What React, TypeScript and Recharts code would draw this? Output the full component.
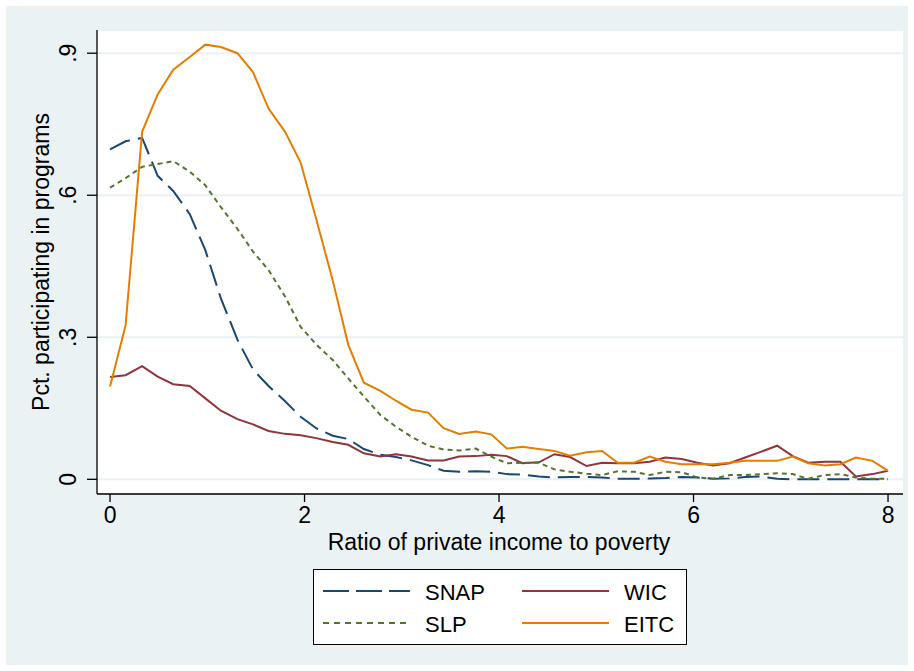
import React from "react"
import { LineChart, Line, XAxis, YAxis, CartesianGrid, Label } from "recharts"

const ratio = [
  0, 0.16, 0.33, 0.49, 0.65, 0.82, 0.98, 1.14, 1.31, 1.47,
  1.63, 1.8, 1.96, 2.12, 2.29, 2.45, 2.61, 2.78, 2.94, 3.1,
  3.27, 3.43, 3.59, 3.76, 3.92, 4.08, 4.24, 4.41, 4.57, 4.73,
  4.9, 5.06, 5.22, 5.39, 5.55, 5.71, 5.88, 6.04, 6.2, 6.37,
  6.53, 6.69, 6.86, 7.02, 7.18, 7.35, 7.51, 7.67, 7.84, 8,
]

const snap = [
  0.697, 0.714, 0.721, 0.641, 0.609, 0.56, 0.484, 0.382, 0.295, 0.232,
  0.197, 0.165, 0.132, 0.108, 0.092, 0.085, 0.064, 0.052, 0.047, 0.04,
  0.03, 0.018, 0.016, 0.017, 0.016, 0.011, 0.01, 0.006, 0.004, 0.005,
  0.005, 0.004, 0.001, 0.001, 0.002, 0.003, 0.005, 0.004, 0.001, 0.002,
  0.005, 0.006, 0.001, 0, 0, 0, 0, 0, 0, 0,
]

const wic = [
  0.216, 0.22, 0.239, 0.217, 0.201, 0.197, 0.171, 0.145, 0.127, 0.116,
  0.102, 0.096, 0.093, 0.087, 0.079, 0.073, 0.055, 0.048, 0.053, 0.048,
  0.04, 0.04, 0.048, 0.049, 0.052, 0.049, 0.034, 0.036, 0.053, 0.047,
  0.028, 0.035, 0.034, 0.034, 0.037, 0.046, 0.043, 0.035, 0.029, 0.034,
  0.046, 0.058, 0.071, 0.049, 0.035, 0.037, 0.037, 0.006, 0.011, 0.018,
]

const slp = [
  0.616, 0.636, 0.66, 0.666, 0.672, 0.65, 0.621, 0.575, 0.529, 0.481,
  0.442, 0.386, 0.322, 0.285, 0.252, 0.213, 0.175, 0.136, 0.111, 0.09,
  0.071, 0.063, 0.061, 0.065, 0.048, 0.034, 0.035, 0.035, 0.021, 0.016,
  0.012, 0.009, 0.017, 0.016, 0.009, 0.016, 0.015, 0.004, 0.001, 0.009,
  0.009, 0.011, 0.013, 0.011, 0.001, 0.009, 0.011, 0.004, 0.001, 0.001,
]

const eitc = [
  0.196, 0.325, 0.734, 0.813, 0.865, 0.892, 0.918, 0.913, 0.9, 0.86,
  0.783, 0.734, 0.669, 0.55, 0.42, 0.284, 0.204, 0.187, 0.166, 0.147,
  0.141, 0.108, 0.096, 0.101, 0.095, 0.065, 0.069, 0.064, 0.06, 0.05,
  0.057, 0.06, 0.035, 0.035, 0.048, 0.037, 0.032, 0.032, 0.032, 0.035,
  0.039, 0.039, 0.039, 0.048, 0.034, 0.029, 0.032, 0.046, 0.039, 0.018,
]

const xTicks = [0, 2, 4, 6, 8]
const yTicks = [0, 0.3, 0.6, 0.9]

const data = ratio.map((r, i) => ({
  ratio: r,
  snap: snap[i],
  wic: wic[i],
  slp: slp[i],
  eitc: eitc[i],
}))

const FONT = '"Liberation Sans", Arial, Helvetica, sans-serif'
const BG = "#eaf2f3"

const NAVY = "#1a476f"
const MAROON = "#90353b"
const GREEN = "#55752f"
const ORANGE = "#e37e00"

const fmtY = (v: number) => (v === 0 ? "0" : v.toFixed(1).replace(/^0/, ""))

function YTick({ y, payload }: any) {
  return (
    <text
      x={76}
      y={y}
      transform={`rotate(-90 76 ${y})`}
      textAnchor="middle"
      fontSize={23}
      fontFamily={FONT}
      fill="#000"
    >
      {fmtY(payload.value)}
    </text>
  )
}

function XTick({ x, payload }: any) {
  return (
    <text x={x} y={523} textAnchor="middle" fontSize={23} fontFamily={FONT} fill="#000">
      {payload.value}
    </text>
  )
}

function ChartLegend() {
  const rows = [
    { y: 22, items: [{ name: "SNAP", color: NAVY, dash: "26 7" }, { name: "WIC", color: MAROON, dash: undefined }] },
    { y: 54, items: [{ name: "SLP", color: GREEN, dash: "6 5" }, { name: "EITC", color: ORANGE, dash: undefined }] },
  ]
  return (
    <div
      style={{
        position: "absolute",
        left: 313,
        top: 569,
        width: 374,
        height: 76,
        boxSizing: "border-box",
        border: "1px solid #000",
        background: "#fff",
      }}
    >
      <svg width={372} height={74} style={{ position: "absolute", left: 0, top: 0 }}>
        {rows.map((row) =>
          row.items.map((it, j) => {
            const x0 = j === 0 ? 9 : 208
            return (
              <g key={it.name}>
                <line
                  x1={x0}
                  x2={x0 + 87}
                  y1={row.y - 1}
                  y2={row.y - 1}
                  stroke={it.color}
                  strokeWidth={2}
                  strokeDasharray={it.dash}
                />
                <text x={x0 + 102} y={row.y + 7.5} fontSize={22} fontFamily={FONT} fill="#000">
                  {it.name}
                </text>
              </g>
            )
          })
        )}
      </svg>
    </div>
  )
}

export default function App() {
  return (
    <div style={{ position: "absolute", left: 0, top: 0, width: 914, height: 671, background: "#fff" }}>
      <div style={{ position: "absolute", left: 6, top: 6, width: 902, height: 659, background: BG }} />
      <div style={{ position: "absolute", left: 0, top: 0 }}>
        <LineChart
          width={914}
          height={671}
          data={data}
          margin={{ top: 30, right: 11, left: 7, bottom: 137 }}
        >
          <CartesianGrid vertical={false} stroke={BG} strokeWidth={2} fill="#fff" />
          <XAxis
            dataKey="ratio"
            type="number"
            domain={[-0.134, 8.154]}
            ticks={xTicks}
            allowDataOverflow
            height={40}
            tickSize={8}
            axisLine={{ stroke: "#000", strokeWidth: 1.3 }}
            tickLine={{ stroke: "#000", strokeWidth: 1.3 }}
            tick={<XTick />}
          >
            <Label
              content={() => (
                <text x={499} y={550} textAnchor="middle" fontSize={23} fontFamily={FONT} fill="#000">
                  Ratio of private income to poverty
                </text>
              )}
            />
          </XAxis>
          <YAxis
            type="number"
            domain={[-0.031, 0.949]}
            ticks={yTicks}
            allowDataOverflow
            width={90}
            tickSize={10}
            axisLine={{ stroke: "#000", strokeWidth: 1.3 }}
            tickLine={{ stroke: "#000", strokeWidth: 1.3 }}
            tick={<YTick />}
          >
            <Label
              content={() => (
                <text
                  x={49}
                  y={262}
                  transform="rotate(-90 49 262)"
                  textAnchor="middle"
                  fontSize={23}
                  fontFamily={FONT}
                  fill="#000"
                >
                  Pct. participating in programs
                </text>
              )}
            />
          </YAxis>
          <Line dataKey="snap" name="SNAP" stroke={NAVY} strokeWidth={2} strokeDasharray="22 8" dot={false} isAnimationActive={false} />
          <Line dataKey="wic" name="WIC" stroke={MAROON} strokeWidth={2} dot={false} isAnimationActive={false} />
          <Line dataKey="slp" name="SLP" stroke={GREEN} strokeWidth={2} strokeDasharray="5 4" dot={false} isAnimationActive={false} />
          <Line dataKey="eitc" name="EITC" stroke={ORANGE} strokeWidth={2} dot={false} isAnimationActive={false} />
        </LineChart>
      </div>
      <ChartLegend />
    </div>
  )
}
